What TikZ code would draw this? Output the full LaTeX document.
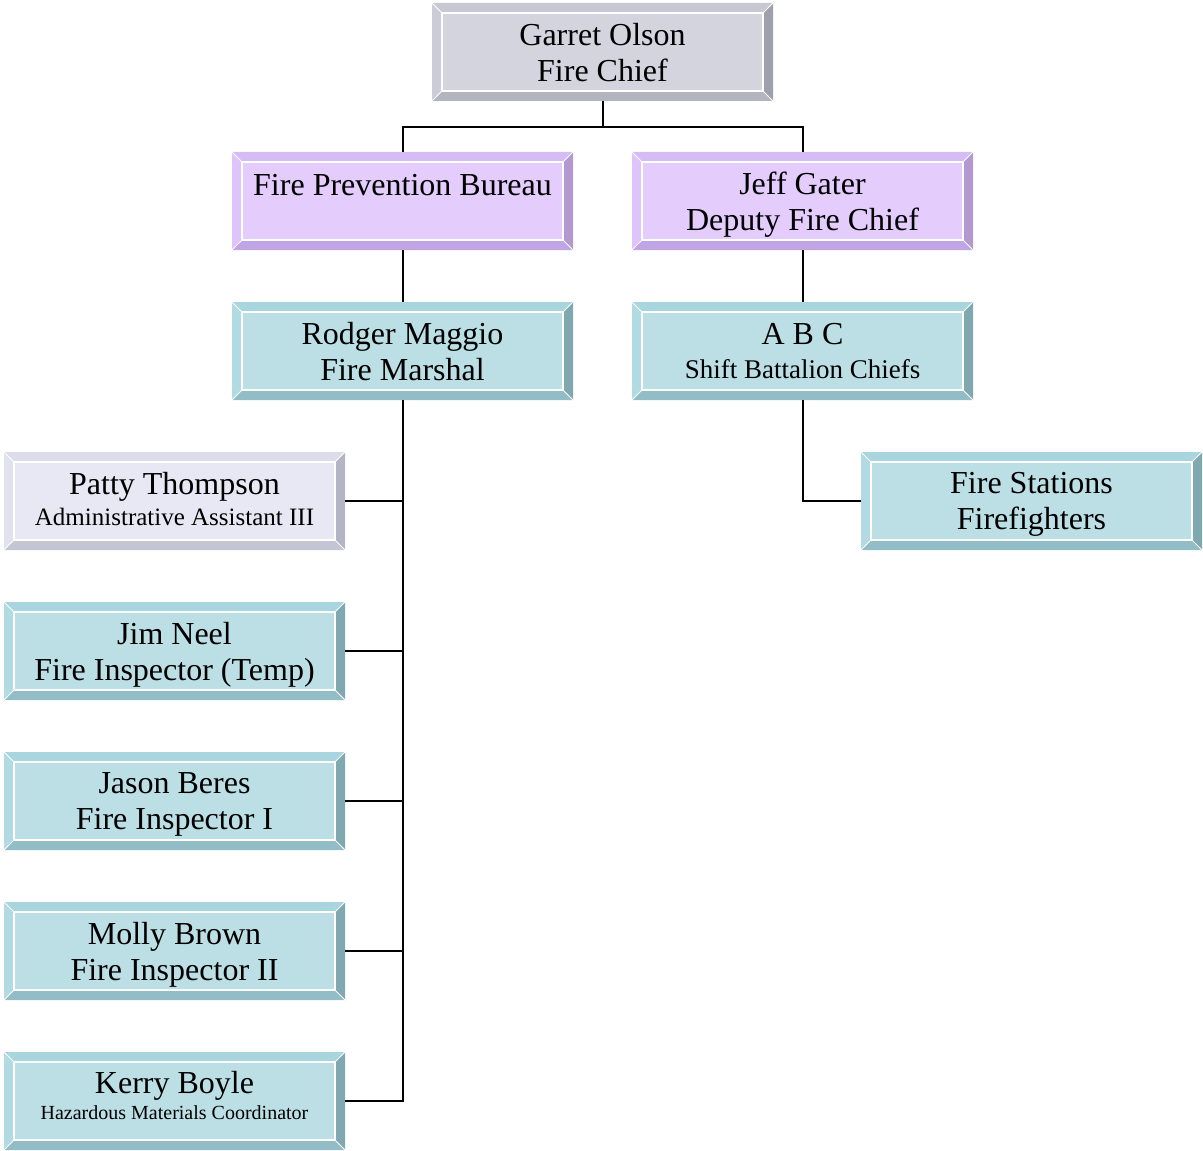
\documentclass[tikz,border=0pt]{standalone}
\usepackage{fontspec}
\setmainfont{Liberation Serif}
\usetikzlibrary{calc}
\definecolor{tealFace}{HTML}{BCDFE5}
\definecolor{tealTop}{HTML}{A8D5DE}
\definecolor{tealLeft}{HTML}{B2DAE2}
\definecolor{tealRight}{HTML}{80A8B0}
\definecolor{tealBottom}{HTML}{92BDC6}
\definecolor{greyFace}{HTML}{D4D4DF}
\definecolor{greyTop}{HTML}{C8C8D4}
\definecolor{greyLeft}{HTML}{CCCCD8}
\definecolor{greyRight}{HTML}{A0A0AC}
\definecolor{greyBottom}{HTML}{B4B4C0}
\definecolor{lilacFace}{HTML}{E4CCFC}
\definecolor{lilacTop}{HTML}{D6BCF5}
\definecolor{lilacLeft}{HTML}{DEC4FA}
\definecolor{lilacRight}{HTML}{B399D0}
\definecolor{lilacBottom}{HTML}{C1A4E4}
\definecolor{mistFace}{HTML}{E8E8F4}
\definecolor{mistTop}{HTML}{DCDCEA}
\definecolor{mistLeft}{HTML}{E2E2EF}
\definecolor{mistRight}{HTML}{B4B4C4}
\definecolor{mistBottom}{HTML}{C4C4D4}
\newcommand\bevw{5pt}
\newcommand\rolemid{\fontsize{13.5}{16}\selectfont}
\newcommand\rolesmall{\fontsize{12.5}{15}\selectfont}
\newcommand\roletiny{\fontsize{10}{13}\selectfont}
\tikzset{
  bevelbox/.style={rectangle,inner sep=0pt,minimum width=170.5pt,minimum height=49pt,
    align=center,fill=#1Face,font=\fontsize{16}{18}\selectfont,text depth=0pt,
    path picture={
      \path (path picture bounding box.north west) coordinate (bnw)
            (path picture bounding box.south east) coordinate (bse);
      \fill[#1Top] (bnw) -- (bnw -| bse) -- ([shift={(-\bevw,-\bevw)}]bnw -| bse)
        -- ([shift={(\bevw,-\bevw)}]bnw) -- cycle;
      \fill[#1Left] (bnw) -- (bnw |- bse) -- ([shift={(\bevw,\bevw)}]bnw |- bse)
        -- ([shift={(\bevw,-\bevw)}]bnw) -- cycle;
      \fill[#1Right] (bse) -- (bnw -| bse) -- ([shift={(-\bevw,-\bevw)}]bnw -| bse)
        -- ([shift={(-\bevw,\bevw)}]bse) -- cycle;
      \fill[#1Bottom] (bse) -- (bnw |- bse) -- ([shift={(\bevw,\bevw)}]bnw |- bse)
        -- ([shift={(-\bevw,\bevw)}]bse) -- cycle;
      \draw[white,line width=0.6pt] ([shift={(\bevw,-\bevw)}]bnw) rectangle ([shift={(-\bevw,\bevw)}]bse);
      \draw[white,line width=0.4pt] (bnw) -- ([shift={(\bevw,-\bevw)}]bnw)
        (bse) -- ([shift={(-\bevw,\bevw)}]bse)
        (bnw -| bse) -- ([shift={(-\bevw,-\bevw)}]bnw -| bse)
        (bnw |- bse) -- ([shift={(\bevw,\bevw)}]bnw |- bse);
    }},
  link/.style={draw=black,line width=1pt}
}
\begin{document}
\begin{tikzpicture}[x=0.5pt,y=-0.5pt]
\useasboundingbox (0,0) rectangle (1203,1150);

% top levels
\node[bevelbox=grey] (chief) at (602.5,52) {Garret Olson\\Fire Chief};
\node[bevelbox=lilac,text depth=16pt] (bureau) at (402.5,201) {Fire Prevention Bureau};
\node[bevelbox=lilac] (deputy) at (802.5,201) {Jeff Gater\\Deputy Fire Chief};
\node[bevelbox=teal] (marshal) at (402.5,351) {Rodger Maggio\\Fire Marshal};
\node[bevelbox=teal] (shifts) at (802.5,351) {A B C\\[-1pt]{\rolemid Shift Battalion Chiefs}};
\node[bevelbox=teal] (stations) at (1031.5,501) {Fire Stations\\Firefighters};

% fire marshal's staff
\node[bevelbox=mist,text depth=2pt] (thompson) at (174.5,501) {Patty Thompson\\[-2.5pt]{\rolesmall Administrative Assistant III}};
\node[bevelbox=teal] (neel) at (174.5,651) {Jim Neel\\Fire Inspector (Temp)};
\node[bevelbox=teal] (beres) at (174.5,801) {Jason Beres\\Fire Inspector I};
\node[bevelbox=teal] (brown) at (174.5,951) {Molly Brown\\Fire Inspector II};
\node[bevelbox=teal,text depth=6pt] (boyle) at (174.5,1101) {Kerry Boyle\\[-5pt]{\roletiny Hazardous Materials Coordinator}};

% connectors
\coordinate (split) at (602.5,127);
\draw[link] (chief.south) -- (split);
\draw[link] (bureau.north) |- (split) -| (deputy.north);
\draw[link] (bureau) -- (marshal);
\draw[link] (deputy) -- (shifts);
\draw[link] (shifts.south) |- (stations.west);
\draw[link] (marshal.south) |- (boyle.east);
\foreach \staff in {thompson,neel,beres,brown}
  \draw[link] (\staff.east) -- (marshal.south |- \staff.east);
\end{tikzpicture}
\end{document}
